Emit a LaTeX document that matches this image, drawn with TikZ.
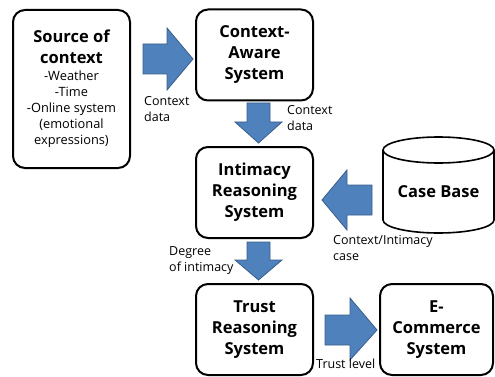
\documentclass[tikz,border=0pt]{standalone}
\usepackage{fontspec}
\setmainfont{Open Sans}
\definecolor{arrowblue}{HTML}{4F81BD}
\definecolor{arrowedge}{HTML}{385D8A}
\newcommand{\lf}{\mdseries\fontsize{12.8}{16}\selectfont}
\begin{document}
\begin{tikzpicture}[x=1pt,y=-1pt,
  sysbox/.style={draw, line width=2pt, rounded corners=12pt, align=center,
    font=\bfseries\fontsize{16.5}{21}\selectfont, inner sep=0pt, minimum width=117pt, minimum height=91pt},
  barrow/.style={fill=arrowblue, draw=arrowedge, line width=0.8pt, line join=miter},
  lbl/.style={font=\fontsize{12.5}{16}\selectfont, align=left, inner sep=0pt, anchor=north west},
  cyl/.style={draw, line width=1.6pt}
]
\useasboundingbox (0,0) rectangle (495,377);

% boxes
\node[sysbox, minimum height=158pt] (src) at (71.5,89)
  {Source of\\context\\[-4pt]\lf -Weather\\[-5pt]\lf -Time\\[-5pt]\lf -Online system\\[-5pt]\lf (emotional\\[-5pt]\lf expressions)};
\node[sysbox] (cas) at (254.5,55) {Context-\\Aware\\System};
\node[sysbox] (irs) at (254.5,192.5) {Intimacy\\Reasoning\\System};
\node[sysbox] (trs) at (254.5,329.5) {Trust\\Reasoning\\System};
\node[sysbox, minimum width=113pt] (ecs) at (436.5,329.5) {E-\\Commerce\\System};

% case base cylinder
\node[inner sep=0pt, minimum width=111pt, minimum height=96pt, font=\bfseries\fontsize{16.5}{21}\selectfont] (cb) at (438.5,192) {Case Base};
\draw[cyl] (383,150) -- (383,220) arc[start angle=180, end angle=360, x radius=55.5pt, y radius=13pt] -- (494,150);
\draw[cyl] (438.5,150) ellipse[x radius=55.5pt, y radius=13pt];

% block arrows
\draw[barrow] (143,44) -- (167,44) -- (167,28) -- (193,59) -- (167,90) -- (167,74) -- (143,74) -- cycle;
\draw[barrow] (247,103) -- (270,103) -- (270,122) -- (282,122) -- (258.5,143) -- (235,122) -- (247,122) -- cycle;
\draw[barrow] (372,185) -- (347,185) -- (347,170) -- (322,200) -- (347,230) -- (347,215) -- (372,215) -- cycle;
\draw[barrow] (247,242) -- (270,242) -- (270,260) -- (282,260) -- (258.5,280) -- (235,260) -- (247,260) -- cycle;
\draw[barrow] (325,315) -- (350,315) -- (350,298) -- (377,330) -- (350,360) -- (350,345) -- (325,345) -- cycle;

% labels
\node[lbl] (l1) at (144,96) {Context\\data};
\node[lbl] (l2) at (287,105) {Context\\data};
\node[lbl] (l3) at (333,235) {Context/Intimacy\\case};
\node[lbl] (l4) at (169,246) {Degree\\of intimacy};
\node[lbl] (l5) at (316,359) {Trust level};
\end{tikzpicture}
\end{document}
